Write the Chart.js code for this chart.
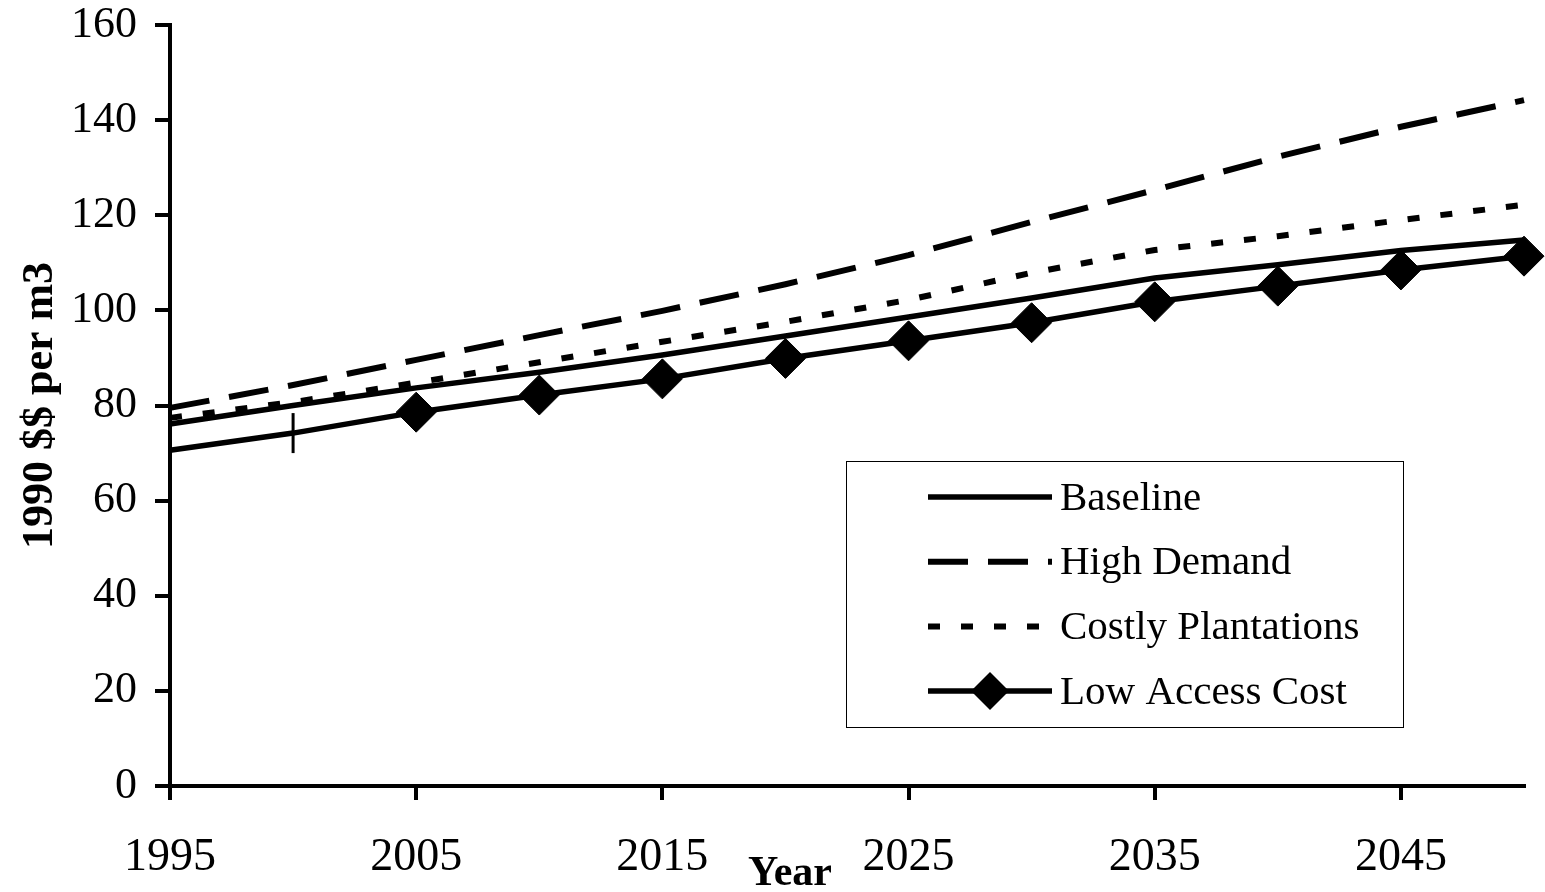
<!DOCTYPE html>
<html>
<head>
<meta charset="utf-8">
<script src="https://cdn.jsdelivr.net/npm/chart.js@4/dist/chart.umd.min.js"></script>
<style>
  html, body { margin: 0; padding: 0; background: #fff; }
  #wrap { width: 1545px; height: 892px; }
</style>
</head>
<body>
<div id="wrap"><canvas id="grafico"></canvas></div>
<script>
// dados
var years = [1995, 2000, 2005, 2010, 2015, 2020, 2025, 2030, 2035, 2040, 2045, 2050]
var baseline = [76.1, 80.0, 83.7, 87.0, 90.6, 94.6, 98.6, 102.6, 106.8, 109.6, 112.6, 114.8]
var highDemand = [79.5, 84.3, 89.6, 94.8, 99.9, 105.5, 111.6, 118.6, 125.3, 132.3, 138.6, 144.2]
var costlyPlantations = [77.4, 80.7, 84.8, 89.1, 93.4, 97.6, 102.2, 107.9, 112.7, 115.6, 119.0, 122.2]
var lowAccessCost = [70.6, 74.2, 78.6, 82.2, 85.6, 89.9, 93.6, 97.4, 101.8, 105.1, 108.5, 111.4]
var xTicks = [1995, 2005, 2015, 2025, 2035, 2045]

var serif = "'Liberation Serif', 'Times New Roman', serif"

function pts(arr) {
  return arr.map(function (v, i) { return { x: years[i], y: v } })
}

// marcadores da serie Low Access Cost
var lowStyle = years.map(function (y, i) { return i == 1 ? 'line' : 'rectRot' })
var lowRadius = years.map(function (y, i) { return i == 0 ? 0 : 20 })
var lowRot = years.map(function (y, i) { return i == 1 ? 90 : 0 })
var lowBorder = years.map(function (y, i) { return i == 1 ? 3 : 1 })

// legenda desenhada dentro da caixa
var legendBox = {
  id: 'legendBox',
  afterDraw: function (chart) {
    var ctx = chart.ctx
    var a = chart.chartArea
    var left = a.left + 676, top = a.top + 436, w = 557, h = 266
    ctx.save()
    ctx.fillStyle = '#fff'
    ctx.fillRect(left, top, w, h)
    ctx.strokeStyle = '#000'
    ctx.lineWidth = 1
    ctx.strokeRect(left + 0.5, top + 0.5, w, h)
    chart.data.datasets.forEach(function (ds, i) {
      var y = top + 36 + i * 64.7
      var x0 = left + 82, x1 = left + 206
      ctx.beginPath()
      ctx.setLineDash(ds.borderDash || [])
      ctx.lineWidth = ds.borderWidth
      ctx.strokeStyle = '#000'
      ctx.lineCap = 'butt'
      ctx.moveTo(x0, y)
      ctx.lineTo(x1, y)
      ctx.stroke()
      ctx.setLineDash([])
      if (ds.legendMarker) {
        var cx = (x0 + x1) / 2, r = 19
        ctx.beginPath()
        ctx.moveTo(cx, y - r)
        ctx.lineTo(cx + r, y)
        ctx.lineTo(cx, y + r)
        ctx.lineTo(cx - r, y)
        ctx.closePath()
        ctx.fillStyle = '#000'
        ctx.fill()
      }
      ctx.fillStyle = '#000'
      ctx.font = "41px " + serif
      ctx.textBaseline = 'middle'
      ctx.textAlign = 'left'
      ctx.fillText(ds.label, x1 + 8, y + 2)
    })
    // titulo do eixo x
    ctx.font = "bold 42px " + serif
    ctx.textAlign = 'center'
    ctx.textBaseline = 'middle'
    ctx.fillText('Year', a.left + 620, a.bottom + 88)
    ctx.restore()
  }
}

var plots = document.getElementById('grafico')

new Chart(plots, {
  type: 'line',
  data: {
    datasets: [{
      label: 'Baseline',
      data: pts(baseline),
      borderColor: '#000',
      borderWidth: 5.5,
      pointRadius: 0,
      clip: false
    }, {
      label: 'High Demand',
      data: pts(highDemand),
      borderColor: '#000',
      borderWidth: 6,
      borderDash: [40, 20],
      borderCapStyle: 'butt',
      pointRadius: 0,
      clip: false
    }, {
      label: 'Costly Plantations',
      data: pts(costlyPlantations),
      borderColor: '#000',
      borderWidth: 6,
      borderDash: [12, 21],
      borderCapStyle: 'butt',
      pointRadius: 0,
      clip: false
    }, {
      label: 'Low Access Cost',
      data: pts(lowAccessCost),
      borderColor: '#000',
      borderWidth: 5.5,
      pointStyle: lowStyle,
      pointRadius: lowRadius,
      pointRotation: lowRot,
      pointBorderWidth: lowBorder,
      pointBackgroundColor: '#000',
      pointBorderColor: '#000',
      legendMarker: true,
      clip: false
    }]
  },
  options: {
    responsive: true,
    maintainAspectRatio: false,
    animation: false,
    events: [],
    layout: { padding: { left: 0, right: 8, top: 25, bottom: 0 } },
    plugins: {
      legend: { display: false },
      tooltip: { enabled: false }
    },
    scales: {
      x: {
        type: 'linear',
        min: 1995,
        max: 2050,
        afterBuildTicks: function (s) {
          s.ticks = xTicks.map(function (v) { return { value: v } })
        },
        afterFit: function (s) {
          s.height = 106
          s.paddingLeft = 0
          s.paddingRight = 0
        },
        border: { color: '#000', width: 4 },
        grid: { display: true, drawOnChartArea: false, drawTicks: true, tickLength: 14, color: '#000', lineWidth: 4 },
        ticks: {
          color: '#000',
          font: { family: serif, size: 46 },
          padding: 30,
          maxRotation: 0,
          autoSkip: false,
          callback: function (v) { return String(v) }
        }
      },
      y: {
        min: 0,
        max: 160,
        afterFit: function (s) {
          s.width = 170
          s.paddingTop = 0
          s.paddingBottom = 0
        },
        border: { color: '#000', width: 4 },
        grid: { display: true, drawOnChartArea: false, drawTicks: true, tickLength: 15, color: '#000', lineWidth: 4 },
        ticks: {
          stepSize: 20,
          color: '#000',
          font: { family: serif, size: 44 },
          padding: 18
        },
        title: {
          display: true,
          text: '1990 $$ per m3',
          color: '#000',
          font: { family: serif, size: 44, weight: 'bold' },
          padding: { top: 14, bottom: 0 }
        }
      }
    }
  },
  plugins: [legendBox]
})
</script>
</body>
</html>
